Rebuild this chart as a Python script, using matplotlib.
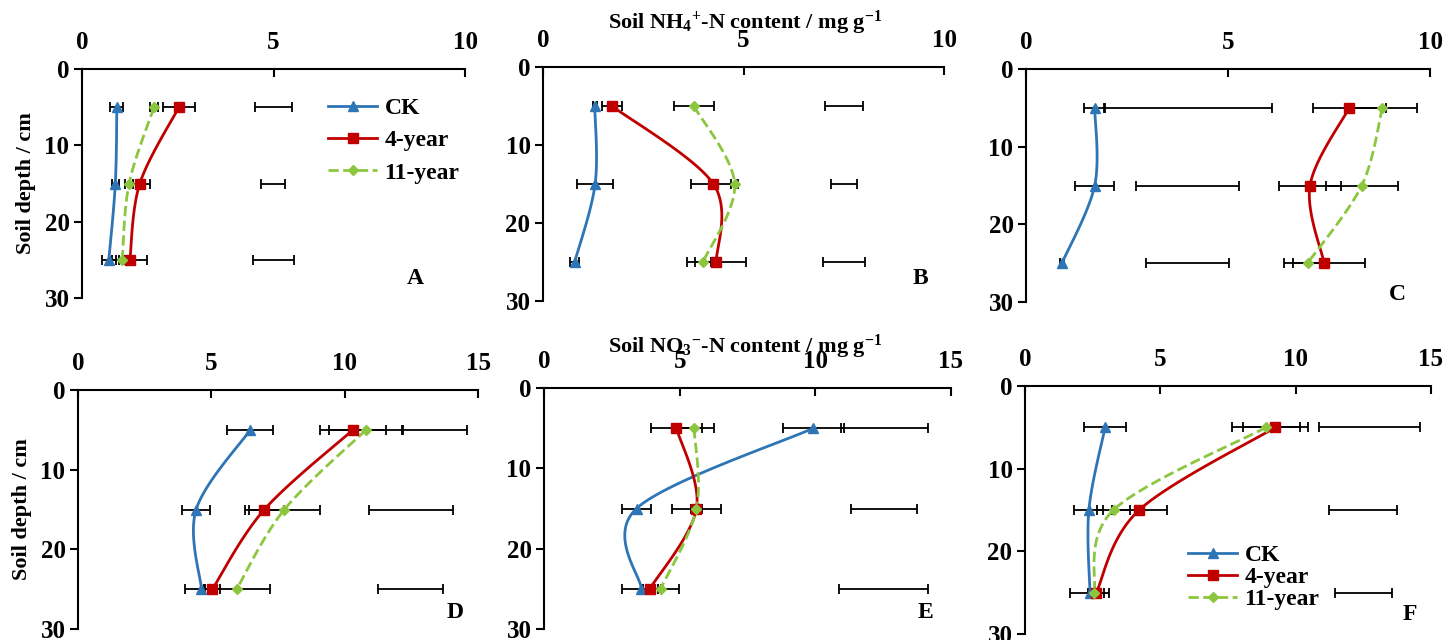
import numpy as np
import matplotlib
matplotlib.use("Agg")
import matplotlib.pyplot as plt
from matplotlib.lines import Line2D

plt.rcParams['font.family'] = ['Liberation Serif', 'DejaVu Serif']
plt.rcParams['font.weight'] = 'bold'
plt.rcParams['mathtext.fontset'] = 'custom'
plt.rcParams['mathtext.rm'] = 'Liberation Serif:bold'
plt.rcParams['mathtext.it'] = 'Liberation Serif:bold'
plt.rcParams['mathtext.bf'] = 'Liberation Serif:bold'

# depths (cm)
depth = [5, 15, 25]
panels = ['A', 'B', 'C', 'D', 'E', 'F']
xmax = [10, 10, 10, 15, 15, 15]

# mean values per panel (rows A..F, columns depth 5/15/25)
ck_vals = [[0.91, 0.87, 0.70], [1.29, 1.30, 0.79], [1.70, 1.70, 0.89],
           [6.46, 4.43, 4.63], [9.93, 3.41, 3.59], [2.96, 2.36, 2.40]]
y4_vals = [[2.53, 1.51, 1.25], [1.72, 4.25, 4.32], [8.00, 7.03, 7.38],
           [10.31, 6.99, 5.04], [4.88, 5.62, 3.90], [9.25, 4.22, 2.63]]
y11_vals = [[1.88, 1.23, 1.05], [3.76, 4.78, 3.99], [8.82, 8.31, 6.97],
            [10.80, 7.74, 5.95], [5.53, 5.62, 4.30], [8.91, 3.27, 2.55]]

# error bars (half widths)
ck_err = [[0.17, 0.09, 0.19], [0.05, 0.45, 0.11], [0.26, 0.49, 0.05],
          [0.86, 0.52, 0.60], [1.13, 0.54, 0.71], [0.77, 0.54, 0.72]]
y4_err = [[0.41, 0.26, 0.46], [0.24, 0.57, 0.73], [0.90, 0.76, 1.00],
          [1.25, 0.74, 0.28], [0.95, 0.91, 0.30], [1.20, 1.02, 0.30]]
y11_err = [[0.10, 0.10, 0.08], [0.50, 0.08, 0.20], [0.87, 0.89, 0.35],
           [1.38, 1.32, 1.24], [0.74, 0.20, 0.66], [1.25, 0.62, 0.20]]

# loose error bars without a visible series
extra_mid = [[5.00, 4.99, 5.00], [7.50, 7.51, 7.51], [4.00, 4.00, 4.00],
             [13.37, 12.49, 12.47], [12.54, 12.53, 12.50], [12.72, 12.50, 12.50]]
extra_half = [[0.47, 0.32, 0.53], [0.47, 0.32, 0.53], [2.08, 1.27, 1.02],
              [1.22, 1.56, 1.22], [1.60, 1.21, 1.64], [1.87, 1.26, 1.06]]

blue = '#2E75B6'
red = '#C00000'
green = '#8CC63F'

# axes boxes in pixels (left, top, right, bottom) of the 1455x640 picture
boxes = [(82, 69, 465, 298), (543, 67, 944, 301), (1026, 69, 1430, 302),
         (78, 390, 478, 629), (544, 388, 951, 629), (1025, 386, 1431, 634)]
letter_pos = [(415, 278), (920, 278), (1397, 295), (455, 612), (925, 612), (1410, 615)]

W, H = 1455, 640
fig = plt.figure(figsize=(14.55, 6.4), dpi=100)


def smooth(ax, xs, ys):
    # excel-like smoothed line, computed in display space
    pts = ax.transData.transform(np.column_stack([xs, ys]))
    p = np.vstack([pts[0], pts, pts[-1]])
    out = []
    t = np.linspace(0, 1, 40)[:, None]
    for i in range(1, len(p) - 2):
        p0, p1, p2, p3 = p[i - 1], p[i], p[i + 1], p[i + 2]
        c1 = p1 + (p2 - p0) / 6
        c2 = p2 - (p3 - p1) / 6
        seg = (1 - t) ** 3 * p1 + 3 * (1 - t) ** 2 * t * c1 + 3 * (1 - t) * t ** 2 * c2 + t ** 3 * p2
        out.append(seg)
    out = np.vstack(out)
    d = ax.transData.inverted().transform(out)
    return d[:, 0], d[:, 1]


for i in range(6):
    l, t_, r, b = boxes[i]
    ax = fig.add_axes([l / W, 1 - b / H, (r - l) / W, (b - t_) / H])
    ax.set_xlim(0, xmax[i])
    ax.set_ylim(30, 0)
    ax.xaxis.tick_top()
    ax.set_xticks(np.arange(0, xmax[i] + 1, 5))
    ax.set_yticks([0, 10, 20, 30])
    ax.spines['right'].set_visible(False)
    ax.spines['bottom'].set_visible(False)
    ax.spines['top'].set_linewidth(1.5)
    ax.spines['left'].set_linewidth(1.5)
    ax.tick_params(axis='x', direction='in', length=6, width=1.5, labelsize=18, pad=11)
    ax.tick_params(axis='y', direction='out', length=6, width=1.5, labelsize=18, pad=3)
    for lab in ax.get_xticklabels() + ax.get_yticklabels():
        lab.set_fontweight('bold')
    ax.patch.set_alpha(0)

    ax.errorbar(extra_mid[i], depth, xerr=extra_half[i], fmt='none', ecolor='black',
                elinewidth=1.3, capsize=3.5, capthick=1.3, zorder=2)
    series = [(ck_vals[i], ck_err[i], blue, '^', 7, '-'),
              (y4_vals[i], y4_err[i], red, 's', 7.5, '-'),
              (y11_vals[i], y11_err[i], green, 'D', 5, '--')]
    for vals, err, col, mk, ms, ls in series:
        ax.errorbar(vals, depth, xerr=err, fmt='none', ecolor='black',
                    elinewidth=1.3, capsize=3.5, capthick=1.3, zorder=2)
        sx, sy = smooth(ax, vals, depth)
        ax.plot(sx, sy, color=col, lw=2, ls=ls, zorder=3)
        ax.plot(vals, depth, ls='none', marker=mk, ms=ms, color=col, zorder=4)

    if i in (0, 3):
        ax.set_ylabel('Soil depth / cm', fontsize=16, fontweight='bold', labelpad=6)

    lx, ly = letter_pos[i]
    fig.text(lx / W, 1 - ly / H, panels[i], fontsize=17, fontweight='bold',
             ha='center', va='center')

handles = [Line2D([], [], color=blue, lw=2, marker='^', ms=7),
           Line2D([], [], color=red, lw=2, marker='s', ms=7.5),
           Line2D([], [], color=green, lw=2, ls='--', marker='D', ms=5)]
names = ['CK', '4-year', '11-year']
fig.legend(handles, names, loc='upper left', bbox_to_anchor=(316 / W, 1 - 86 / H),
           frameon=False, fontsize=17, handlelength=2.1, handletextpad=0.3,
           labelspacing=0.45, borderpad=0)
fig.legend(handles, names, loc='upper left', bbox_to_anchor=(1176 / W, 1 - 533 / H),
           frameon=False, fontsize=17, handlelength=2.1, handletextpad=0.3,
           labelspacing=0.02, borderpad=0)

fig.text(745 / W, 1 - 23 / H, 'Soil NH$_4$$^{+}$-N content / mg g$^{-1}$',
         fontsize=16, fontweight='bold', ha='center', va='center')
fig.text(745 / W, 1 - 347 / H, 'Soil NO$_3$$^{-}$-N content / mg g$^{-1}$',
         fontsize=16, fontweight='bold', ha='center', va='center')

fig.savefig('out.png', dpi=100)
